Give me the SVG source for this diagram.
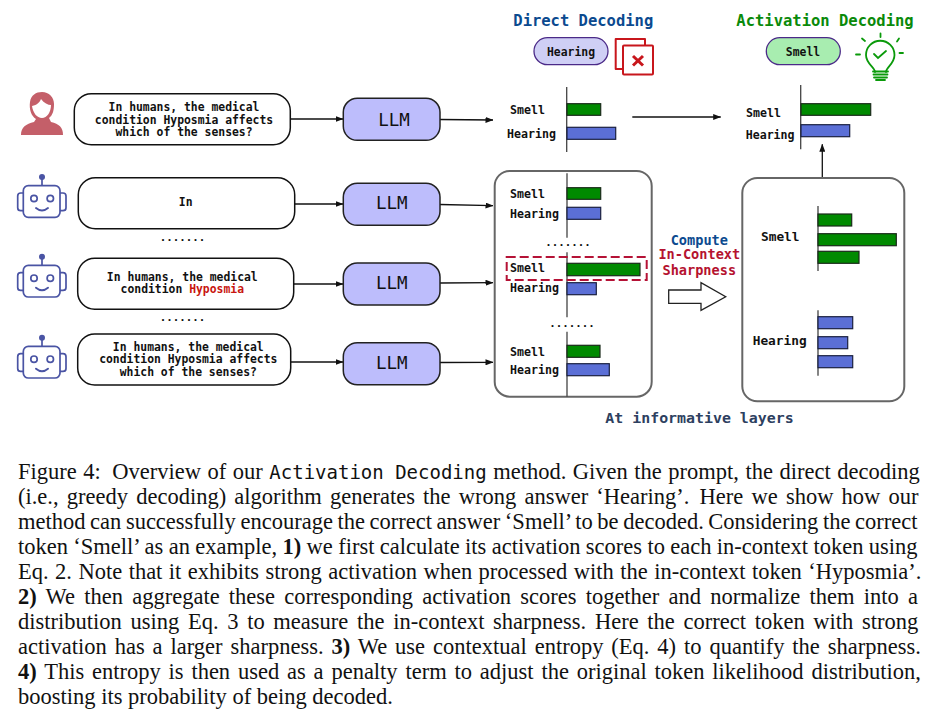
<svg xmlns="http://www.w3.org/2000/svg" width="939" height="723" viewBox="0 0 939 723">
<style>
.m{font-family:"DejaVu Sans Mono","Liberation Mono",monospace;font-weight:bold;font-size:11.4px;fill:#111;text-anchor:middle}
.d{font-family:"DejaVu Sans Mono","Liberation Mono",monospace;font-weight:bold;font-size:10.8px;fill:#111;text-anchor:middle}
.l{font-family:"DejaVu Sans Mono","Liberation Mono",monospace;font-weight:bold;font-size:11.6px;fill:#111}
.llm{font-family:"DejaVu Sans Mono","Liberation Mono",monospace;font-size:17.5px;fill:#111;text-anchor:middle}
.t{font-family:"DejaVu Sans Mono","Liberation Mono",monospace;font-weight:bold;font-size:15.5px;text-anchor:middle}
.c{font-family:"DejaVu Sans Mono","Liberation Mono",monospace;font-weight:bold;font-size:13.6px;text-anchor:middle}
.q{fill:#fff;stroke:#111;stroke-width:1.5}
.b{fill:#bdbdfc;stroke:#222;stroke-width:1.5}
.p{fill:#fff;stroke:#666;stroke-width:2}
.a{stroke:#444;stroke-width:1.3;fill:none}
.g{fill:#008a00;stroke:#1a2a1a;stroke-width:1.2}
.v{fill:#5b6fd6;stroke:#1a2040;stroke-width:1.2}
.e{stroke:#111;stroke-width:1.3;fill:none;marker-end:url(#ah)}
.cap{font-family:"Liberation Serif","Times New Roman",serif;font-size:22.5px;fill:#111}
.tt{font-family:"DejaVu Sans Mono","Liberation Mono",monospace;font-size:19px;word-spacing:0}
.r{stroke:#4a54a4;stroke-width:1.7;fill:#fff}
</style>
<defs>
<marker id="ah" markerWidth="8" markerHeight="6" refX="7.5" refY="3" orient="auto" markerUnits="userSpaceOnUse"><path d="M0 0L8 3L0 6z" fill="#111"/></marker>
<g id="robot">
<path d="M42 177V186" class="a" style="stroke:#4a54a4;stroke-width:1.7"/>
<circle cx="42" cy="177" r="3" fill="#4a54a4"/>
<rect x="17.7" y="193" width="48.3" height="17.7" rx="3" class="r"/>
<rect x="23.3" y="185.7" width="36.7" height="31.6" rx="5" class="r"/>
<circle cx="34" cy="198.5" r="3.2" class="r"/><circle cx="50.3" cy="198.5" r="3.2" class="r"/>
<path d="M36 208Q42 213 48 208" fill="none" stroke="#4a54a4" stroke-width="1.9" stroke-linecap="round"/>
</g>
</defs>
<rect width="939" height="723" fill="#fff"/>

<g id="connectors">
<path class="e" d="M290.3 119H343"/>
<path class="e" d="M294.7 204H343"/>
<path class="e" d="M293.7 284H343"/>
<path class="e" d="M290.7 362H343"/>
<path class="e" d="M440 119.500L493 120"/>
<path class="e" d="M440 204.500L493 205.700"/>
<path class="e" d="M440 283L493 282.700"/>
<path class="e" d="M440 362.500L493 362.300"/>
<path class="e" d="M632.300 117H720.700"/>
<path class="e" d="M822.300 178V144.300"/>
</g>

<g id="user"><path d="M21 135C21 127 26 124 34 122L36 119C31 116 29 109 30 102C31 95 36 92 42 92C49 92 54 97 54 104C54 110 53 115 49 118L51 122C59 124 63 127 63 135Z" fill="#c45f69"/><path d="M32 106C37 105 40 102 41 99C44 103 48 105 51 105C51 112 47 118 42 118C37 118 33 113 32 106Z" fill="#fff"/></g>
<use id="robot1" href="#robot"/>
<use id="robot2" href="#robot" y="79.700"/>
<use id="robot3" href="#robot" y="160.700"/>

<g id="q1"><rect class="q" x="74.300" y="93.700" width="216" height="51" rx="17"/><text class="m" x="184" y="111.300">In humans, the medical</text><text class="m" x="184" y="123.700">condition Hyposmia affects</text><text class="m" x="184" y="136.300">which of the senses?</text></g>
<g id="q2"><rect class="q" x="78.300" y="177.700" width="216.400" height="51" rx="17"/><text class="m" x="185.700" y="206">In</text></g>
<g id="q3"><rect class="q" x="77.700" y="258.300" width="216" height="51" rx="17"/><text class="m" x="182.300" y="280.700">In humans, the medical</text><text class="m" x="182.300" y="293.300">condition <tspan fill="#c8160f">Hyposmia</tspan></text></g>
<g id="q4"><rect class="q" x="77.700" y="334" width="213" height="51" rx="17"/><text class="m" x="188.300" y="350.700">In humans, the medical</text><text class="m" x="188.300" y="363.300">condition Hyposmia affects</text><text class="m" x="188.300" y="376.300">which of the senses?</text></g>
<text class="d" x="182.500" y="241">.......</text>
<text class="d" x="182.500" y="321">.......</text>

<g id="llm1"><rect class="b" x="343.300" y="98.300" width="96.700" height="42" rx="14"/><text class="llm" x="394" y="125.500">LLM</text></g>
<g id="llm2"><rect class="b" x="343.300" y="183.300" width="96.700" height="42" rx="14"/><text class="llm" x="391.700" y="208.500">LLM</text></g>
<g id="llm3"><rect class="b" x="343.300" y="263" width="96.700" height="42" rx="14"/><text class="llm" x="391.700" y="289">LLM</text></g>
<g id="llm4"><rect class="b" x="343.300" y="342.700" width="96.700" height="42" rx="14"/><text class="llm" x="391.700" y="369">LLM</text></g>

<g id="direct">
<text class="t" x="583.300" y="26" fill="#0b4a8f">Direct Decoding</text>
<rect x="534" y="37.700" width="74" height="27" rx="13.500" fill="#cfcff5" stroke="#4b2a88" stroke-width="1.300"/>
<text class="m" x="571" y="56">Hearing</text>
<path d="M622 69H615.700V39H645V45.300" fill="none" stroke="#c8161c" stroke-width="2" stroke-linejoin="round"/>
<rect x="623" y="45.500" width="30" height="29" fill="#fff" stroke="#c8161c" stroke-width="2" rx="1"/>
<path d="M633 56L643 65.500M643 56L633 65.500" stroke="#c8161c" stroke-width="3"/>
<path class="a" d="M566.700 87V152"/>
<rect class="g" x="567" y="103.700" width="33.700" height="11.600"/>
<rect class="v" x="567" y="127.300" width="48.700" height="12"/>
<text class="l" x="510" y="114">Smell</text><text class="l" x="507" y="138">Hearing</text>
</g>

<g id="activation">
<text class="t" x="825" y="26" fill="#0a8a0a">Activation Decoding</text>
<rect x="766.300" y="37.700" width="74" height="27" rx="13.500" fill="#a8edb0" stroke="#4b2a88" stroke-width="1.300"/>
<text class="m" x="803" y="56">Smell</text>
<g fill="none" stroke="#0a9a0a" stroke-width="1.800" stroke-linecap="round">
<path d="M875 72C875 67 866 64 866 55A14.200 14.200 0 0 1 894.500 55C894.500 64 886 67 886 72"/>
<path d="M873 71.500H888M873.500 74.500H887.500M874 77.500H887M876 80H885"/>
<path d="M874 54L878 58L886 51"/>
<path d="M880.500 33.500V37M862 38.500L865 41M899 38.500L897 41.500M856 54.500H860M899.500 53H903"/>
</g>
<path class="a" d="M800.700 85V149.300"/>
<rect class="g" x="801" y="103.700" width="69.700" height="11.600"/>
<rect class="v" x="801" y="124.700" width="48.700" height="12"/>
<text class="l" x="746" y="117">Smell</text><text class="l" x="745.700" y="139">Hearing</text>
</g>

<g id="layers">
<rect class="p" x="494.700" y="171" width="157" height="225.700" rx="15"/>
<path class="a" d="M567 173.300V237.700M567 252.300V317.300M567 331.700V396.700"/>
<rect class="g" x="567" y="187.700" width="33.700" height="11.600"/>
<rect class="v" x="567" y="207.300" width="33.700" height="12"/>
<rect class="g" x="567" y="263.300" width="73" height="12.400"/>
<rect class="v" x="567" y="282.700" width="29.300" height="12"/>
<rect class="g" x="567" y="345.300" width="33" height="12"/>
<rect class="v" x="567" y="363.700" width="42.300" height="12"/>
<text class="l" x="510" y="198">Smell</text><text class="l" x="510" y="218">Hearing</text>
<text class="l" x="510" y="272.300">Smell</text><text class="l" x="510" y="292.300">Hearing</text>
<text class="l" x="510" y="356">Smell</text><text class="l" x="510" y="374">Hearing</text>
<text class="d" x="568" y="246">.......</text>
<text class="d" x="572" y="326.700">.......</text>
<rect x="506.700" y="257" width="140" height="23" fill="none" stroke="#b51236" stroke-width="2" stroke-dasharray="9 4"/>
</g>

<g id="compute">
<text class="c" x="699.300" y="244.500" fill="#0b4a8f">Compute</text>
<text class="c" x="699.300" y="259" fill="#b5122f">In-Context</text>
<text class="c" x="699.300" y="274.500" fill="#b5122f">Sharpness</text>
<path d="M668.700 290H701V282.700L725.700 296.700L701 310.300V303.300H668.700Z" fill="#fff" stroke="#222" stroke-width="1.300"/>
</g>

<g id="sharp">
<rect class="p" x="742.300" y="178" width="162" height="223.300" rx="15"/>
<path class="a" d="M818 206V271M818 310.300V375.700"/>
<rect class="g" x="818" y="214" width="33.700" height="12"/>
<rect class="g" x="818" y="233.700" width="78.300" height="12"/>
<rect class="g" x="818" y="251.300" width="41" height="12"/>
<rect class="v" x="818" y="316.700" width="34.700" height="12"/>
<rect class="v" x="818" y="336.700" width="29.700" height="12"/>
<rect class="v" x="818" y="355.700" width="34.700" height="12"/>
<text class="l" style="font-size:12.800px" x="761" y="241">Smell</text>
<text class="l" style="font-size:12.800px" x="752.700" y="344.500">Hearing</text>
<text class="t" style="font-size:14.900px" x="699.500" y="423" fill="#2d4060">At informative layers</text>
</g>

<g id="caption">
<text class="cap" style="word-spacing:.9px" x="18" y="478.700">Figure 4: <tspan dx="5">Overview</tspan> of our <tspan class="tt">Activation Decoding</tspan> method. Given the prompt, the direct decoding</text>
<text class="cap" style="word-spacing:2.55px" x="18" y="504.300">(i.e., greedy decoding) algorithm generates the wrong answer ‘Hearing’. <tspan dx="2">Here</tspan> we show how our</text>
<text class="cap" style="word-spacing:-1.04px" x="18" y="529.300">method can successfully encourage the correct answer ‘Smell’ to be decoded. Considering the correct</text>
<text class="cap" style="word-spacing:-.26px" x="18" y="554">token ‘Smell’ as an example, <tspan font-weight="bold">1)</tspan> we first calculate its activation scores to each in-context token using</text>
<text class="cap" style="word-spacing:.84px" x="18" y="578.600">Eq. 2. Note that it exhibits strong activation when processed with the in-context token ‘Hyposmia’.</text>
<text class="cap" style="word-spacing:3.6px" x="18" y="603.500"><tspan font-weight="bold">2)</tspan> We then aggregate these corresponding activation scores together and normalize them into a</text>
<text class="cap" style="word-spacing:3.07px" x="18" y="628.500">distribution using Eq. 3 to measure the in-context sharpness. Here the correct token with strong</text>
<text class="cap" style="word-spacing:2.3px" x="18" y="653.500">activation has a larger sharpness. <tspan font-weight="bold">3)</tspan> We use contextual entropy (Eq. 4) to quantify the sharpness.</text>
<text class="cap" style="word-spacing:2.2px" x="18" y="679"><tspan font-weight="bold">4)</tspan> This entropy is then used as a penalty term to adjust the original token likelihood distribution,</text>
<text class="cap" x="18" y="703.700">boosting its probability of being decoded.</text>
</g>
</svg>
